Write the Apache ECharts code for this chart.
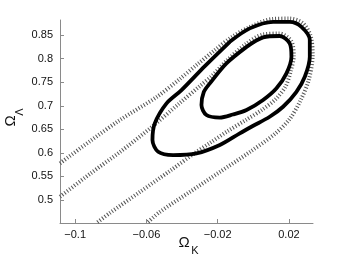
<!DOCTYPE html>
<html>
<head>
<meta charset="utf-8">
<script src="https://cdn.jsdelivr.net/npm/echarts@6/dist/echarts.min.js"></script>
<style>html,body{margin:0;padding:0;background:#fff;}#c{width:346px;height:260px;}</style>
</head>
<body>
<div id="c"></div>
<script>
// Tick labels
const xTicks = [-0.1, -0.06, -0.02, 0.02];
const yTicks = [0.5, 0.55, 0.6, 0.65, 0.7, 0.75, 0.8, 0.85];
// Solid contours (68% and 95%) [Omega_K, Omega_Lambda]
const innerSolid = [[-0.0038,0.825],[0.0055,0.845],[0.0148,0.848],[0.0204,0.8324],[0.0214,0.804],[0.0186,0.7688],[0.0130,0.7369],[0.0055,0.7121],[-0.0038,0.6909],[-0.0115,0.6814],[-0.0188,0.675],[-0.0263,0.6803],[-0.0291,0.7015],[-0.0278,0.7291],[-0.0244,0.7475],[-0.0151,0.79],[-0.0038,0.825]];
const outerSolid = [[-0.0132,0.8358],[-0.0020,0.8642],[0.0111,0.8782],[0.0204,0.8782],[0.0270,0.8676],[0.0317,0.8394],[0.0317,0.804],[0.0289,0.7615],[0.0242,0.7297],[0.0167,0.6979],[0.0092,0.6767],[-0.0003,0.657],[-0.0076,0.6415],[-0.0188,0.6167],[-0.0319,0.599],[-0.045,0.5954],[-0.0534,0.6024],[-0.0566,0.6273],[-0.0553,0.6627],[-0.0487,0.7051],[-0.0403,0.7333],[-0.0272,0.7842],[-0.0132,0.8358]];
// Dotted contours
const outerDotted = [[-0.1085,0.5779],[-0.0918,0.6245],[-0.0749,0.6697],[-0.0543,0.7185],[-0.0413,0.7567],[-0.0312,0.7885],[-0.0216,0.8182],[-0.0121,0.8458],[-0.0020,0.867],[0.0104,0.8839],[0.0204,0.885],[0.0277,0.8755],[0.0322,0.8479],[0.0333,0.8076],[0.0311,0.7546],[0.0266,0.7121],[0.0204,0.6718],[0.0120,0.64],[-0.0020,0.6018],[-0.0188,0.5594],[-0.0357,0.517],[-0.0525,0.4746],[-0.0597,0.4512]];
const innerDotted = [[-0.1085,0.507],[-0.0918,0.5552],[-0.0749,0.6018],[-0.057,0.6549],[-0.0413,0.7058],[-0.03,0.7418],[-0.0233,0.763],[-0.0149,0.7959],[-0.0042,0.8309],[0.0053,0.8511],[0.0148,0.8532],[0.0213,0.8373],[0.0227,0.8055],[0.0210,0.7736],[0.0182,0.7418],[0.0126,0.7143],[0.0047,0.6909],[-0.0042,0.6697],[-0.0143,0.6464],[-0.0244,0.6209],[-0.0328,0.5997],[-0.0469,0.5615],[-0.0637,0.517],[-0.0805,0.4725],[-0.088,0.4512]];

const FONT = '"Liberation Sans", Arial, Helvetica, sans-serif';
const fmt = v => { let s = String(Math.round(v*1000)/1000); return s.replace('-', '\u2212'); };

const chart = echarts.init(document.getElementById('c'), null, {renderer: 'canvas'});
const dotted = { type: [1, 2], width: 4, color: '#555', cap: 'butt' };
const solid = { type: 'solid', width: 3.8, color: '#000', join: 'round', cap: 'round' };
function ser(data, style, clip, smooth) {
  return { type: 'line', data: data, showSymbol: false, symbol: 'none', smooth: smooth, clip: clip,
           lineStyle: style, silent: true, animation: false };
}
chart.setOption({
  animation: false,
  backgroundColor: '#fff',
  grid: { left: 60, right: 33, top: 20, bottom: 37, containLabel: false, outerBoundsMode: 'none' },
  xAxis: {
    type: 'value', min: -0.1085, max: 0.0335,
    axisLine: { show: true, onZero: false, lineStyle: { color: '#8a8a8a', width: 1 } },
    axisTick: { show: true, inside: true, length: 4, customValues: xTicks, lineStyle: { color: '#8a8a8a' } },
    axisLabel: { customValues: xTicks, formatter: fmt, margin: 6, color: '#111', fontSize: 11, fontFamily: FONT },
    splitLine: { show: false }
  },
  yAxis: {
    type: 'value', min: 0.4512, max: 0.882,
    axisLine: { show: true, onZero: false, lineStyle: { color: '#8a8a8a', width: 1 } },
    axisTick: { show: true, inside: true, length: 4, customValues: yTicks, lineStyle: { color: '#8a8a8a' } },
    axisLabel: { customValues: yTicks, formatter: fmt, margin: 7, color: '#111', fontSize: 11, fontFamily: FONT },
    splitLine: { show: false }
  },
  series: [
    ser(outerDotted, dotted, false, 0.3),
    ser(innerDotted, dotted, false, 0.3),
    ser(outerSolid, solid, true, 0.3),
    ser(innerSolid, solid, true, 0.3)
  ],
  graphic: [
    { type: 'text', x: 184, y: 243, style: { text: '\u03A9', fontSize: 15, fontFamily: FONT, fill: '#111', align: 'center', verticalAlign: 'middle' } },
    { type: 'text', x: 195, y: 251, style: { text: 'K', fontSize: 11, fontFamily: FONT, fill: '#111', align: 'center', verticalAlign: 'middle' } },
    { type: 'text', x: 11, y: 121, rotation: Math.PI/2, style: { text: '\u03A9', fontSize: 15, fontFamily: FONT, fill: '#111', align: 'center', verticalAlign: 'middle' } },
    { type: 'text', x: 20, y: 112, rotation: Math.PI/2, style: { text: '\u039B', fontSize: 11, fontFamily: FONT, fill: '#111', align: 'center', verticalAlign: 'middle' } }
  ]
});
</script>
</body>
</html>
